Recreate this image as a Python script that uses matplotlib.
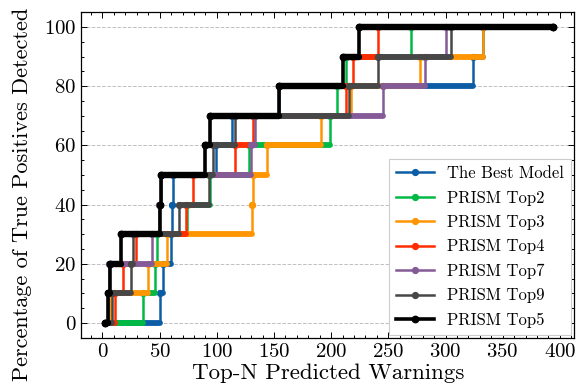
import matplotlib
matplotlib.use('Agg')
import matplotlib.pyplot as plt
from matplotlib.ticker import MultipleLocator

plt.rcParams['font.family'] = 'serif'
plt.rcParams['font.serif'] = ['cmr10']
plt.rcParams['mathtext.fontset'] = 'cm'
plt.rcParams['axes.unicode_minus'] = False
plt.rcParams['axes.formatter.use_mathtext'] = True

# detection levels (%) reached at each step, last entry holds the plateau
levels = [0, 10, 20, 30, 40, 50, 60, 70, 80, 90, 100, 100]

# Top-N where each level is first reached
best_n = [2, 50, 53, 60, 61, 62, 99, 113, 154, 324, 333, 394]
top2_n = [2, 35, 46, 48, 74, 94, 128, 199, 205, 213, 270, 394]
top3_n = [2, 7, 40, 56, 131, 132, 144, 191, 217, 278, 333, 394]
top4_n = [2, 11, 18, 29, 73, 79, 116, 132, 213, 219, 241, 394]
top7_n = [2, 5, 6, 43, 49, 51, 130, 133, 245, 282, 300, 394]
top9_n = [2, 8, 25, 27, 67, 93, 97, 116, 216, 241, 305, 394]
top5_n = [2, 5, 7, 16, 50, 51, 90, 94, 154, 210, 224, 394]

series = [
    ("The Best Model", best_n, '#0C5DA5'),
    ("PRISM Top2", top2_n, '#00B945'),
    ("PRISM Top3", top3_n, '#FF9500'),
    ("PRISM Top4", top4_n, '#FF2C00'),
    ("PRISM Top7", top7_n, '#845B97'),
    ("PRISM Top9", top9_n, '#474747'),
    ("PRISM Top5", top5_n, '#000000'),
]

fig = plt.figure(figsize=(5.76, 3.92), dpi=100)
ax = fig.add_axes([0.141, 0.138, 0.856, 0.831])

for i, (name, xs, color) in enumerate(series):
    black = color == '#000000'
    lw = 2.6 if black else 1.8
    ms = 4.6 if black else 4.2
    # dense markers along each plateau look like a thick bar
    ax.hlines(levels[:-1], xs[:-1], xs[1:], colors=color, lw=ms,
              capstyle='round', zorder=2 + i)
    ax.plot(xs, levels, drawstyle='steps-post', color=color, lw=lw,
            marker='o', ms=ms, label=name, zorder=2 + i)

ax.set_xlim(-18.6, 412.6)
ax.set_ylim(-5, 105)
ax.xaxis.set_major_locator(MultipleLocator(50))
ax.xaxis.set_minor_locator(MultipleLocator(10))
ax.yaxis.set_major_locator(MultipleLocator(20))
ax.yaxis.set_minor_locator(MultipleLocator(5))
ax.tick_params(which='both', direction='in', top=True, right=True, width=0.7,
               labelsize=15)
ax.tick_params(which='major', length=4)
ax.tick_params(which='minor', length=2)
for sp in ax.spines.values():
    sp.set_linewidth(0.9)

ax.yaxis.grid(True, ls='--', color='#c0c0c0', lw=0.7)
ax.set_axisbelow(True)

ax.set_xlabel('Top-N Predicted Warnings', fontsize=16.5, labelpad=2)
ax.set_ylabel('Percentage of True Positives Detected', fontsize=16)
ax.yaxis.set_label_coords(-0.1, 0.44)

leg = ax.legend(loc='lower right', fontsize=12, handlelength=2.3,
                frameon=True, fancybox=False, framealpha=1,
                edgecolor='#cccccc', borderaxespad=0.2, labelspacing=0.55)
leg.get_frame().set_linewidth(0.8)
leg.set_zorder(20)

fig.savefig('out.png', dpi=100)
